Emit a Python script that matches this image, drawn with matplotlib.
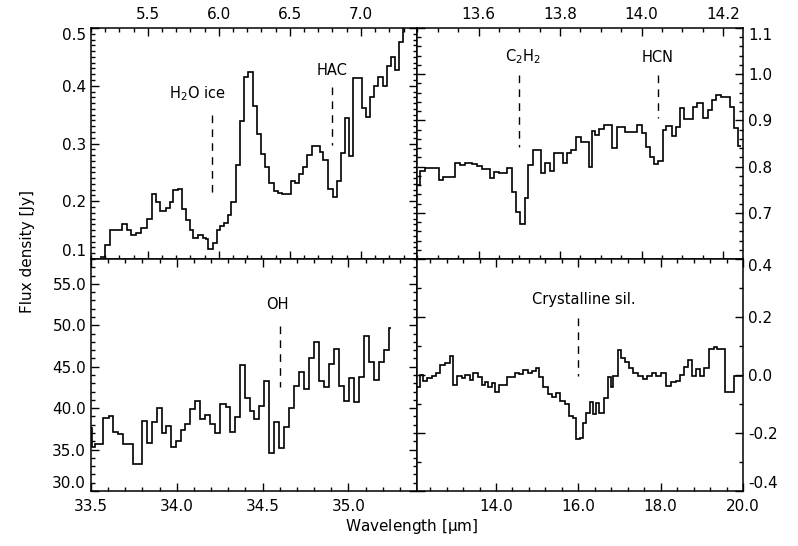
import matplotlib
matplotlib.use("Agg")
import matplotlib.pyplot as plt
from matplotlib.ticker import MultipleLocator, FormatStrFormatter

plt.rcParams['font.family'] = ['DejaVu Sans']
plt.rcParams['mathtext.default'] = 'regular'

# ---------------- 5-7 micron spectrum (top left) ----------------
sl_edges = [5.162, 5.197, 5.232, 5.315, 5.350, 5.380, 5.415, 5.455, 5.495, 5.526,
            5.556, 5.589, 5.627, 5.655, 5.678, 5.714, 5.744, 5.772, 5.796, 5.819,
            5.854, 5.885, 5.913, 5.925, 5.960, 5.984, 6.007, 6.035, 6.066, 6.089,
            6.118, 6.148, 6.178, 6.207, 6.237, 6.270, 6.296, 6.324, 6.354, 6.387,
            6.418, 6.448, 6.477, 6.505, 6.535, 6.566, 6.594, 6.622, 6.653, 6.683,
            6.711, 6.735, 6.770, 6.801, 6.829, 6.857, 6.887, 6.918, 6.946, 6.977,
            7.005, 7.035, 7.063, 7.094, 7.122, 7.153, 7.181, 7.211, 7.239, 7.270,
            7.298, 7.310]
sl_flux = [0.104, 0.124, 0.151, 0.160, 0.150, 0.141, 0.145, 0.153, 0.170, 0.212,
           0.199, 0.183, 0.189, 0.199, 0.220, 0.221, 0.186, 0.167, 0.150, 0.137,
           0.141, 0.137, 0.134, 0.118, 0.127, 0.151, 0.157, 0.162, 0.176, 0.199,
           0.263, 0.339, 0.415, 0.423, 0.365, 0.316, 0.282, 0.259, 0.231, 0.218,
           0.215, 0.213, 0.213, 0.235, 0.231, 0.248, 0.260, 0.280, 0.296, 0.296,
           0.286, 0.271, 0.222, 0.208, 0.235, 0.283, 0.345, 0.278, 0.413, 0.414,
           0.361, 0.346, 0.380, 0.400, 0.415, 0.400, 0.434, 0.449, 0.428, 0.476,
           0.520]

# ---------------- 13.5-14.2 micron spectrum (top right) ----------------
sh_edges = [13.449, 13.457, 13.469, 13.502, 13.514, 13.543, 13.555, 13.567, 13.584, 13.596,
            13.608, 13.629, 13.637, 13.649, 13.670, 13.682, 13.692, 13.702, 13.713, 13.722,
            13.733, 13.754, 13.763, 13.776, 13.786, 13.807, 13.817, 13.827, 13.839, 13.852,
            13.872, 13.878, 13.886, 13.896, 13.909, 13.927, 13.939, 13.959, 13.988, 14.000,
            14.012, 14.021, 14.031, 14.041, 14.053, 14.061, 14.074, 14.084, 14.094, 14.105,
            14.127, 14.137, 14.150, 14.162, 14.172, 14.182, 14.194, 14.204, 14.216, 14.227,
            14.237, 14.245]
sh_flux = [0.760, 0.791, 0.796, 0.771, 0.778, 0.807, 0.803, 0.808, 0.806, 0.802,
           0.794, 0.775, 0.789, 0.787, 0.796, 0.744, 0.702, 0.675, 0.731, 0.803,
           0.837, 0.787, 0.808, 0.790, 0.829, 0.808, 0.829, 0.837, 0.865, 0.854,
           0.800, 0.876, 0.868, 0.881, 0.890, 0.841, 0.886, 0.874, 0.889, 0.872,
           0.843, 0.821, 0.805, 0.812, 0.879, 0.888, 0.866, 0.885, 0.926, 0.903,
           0.930, 0.937, 0.905, 0.923, 0.944, 0.955, 0.950, 0.950, 0.930, 0.883,
           0.845]

# ---------------- 33.5-35.4 micron spectrum (bottom left) ----------------
lh_edges = [33.500, 33.504, 33.523, 33.572, 33.607, 33.630, 33.659, 33.688, 33.743, 33.795,
            33.828, 33.854, 33.883, 33.912, 33.937, 33.966, 33.995, 34.023, 34.048, 34.077,
            34.106, 34.135, 34.164, 34.193, 34.223, 34.252, 34.285, 34.310, 34.339, 34.368,
            34.397, 34.427, 34.452, 34.481, 34.510, 34.539, 34.568, 34.597, 34.626, 34.654,
            34.685, 34.714, 34.743, 34.772, 34.801, 34.830, 34.860, 34.889, 34.918, 34.947,
            34.976, 35.005, 35.034, 35.064, 35.093, 35.122, 35.151, 35.180, 35.209, 35.238,
            35.247]
lh_flux = [37.58, 35.36, 35.65, 38.78, 39.10, 37.17, 36.89, 35.65, 33.27, 38.50,
           35.77, 38.37, 39.99, 36.97, 37.89, 35.36, 36.05, 37.37, 38.06, 39.91,
           40.91, 38.66, 39.18, 38.10, 37.05, 40.51, 40.18, 37.17, 38.98, 45.21,
           41.27, 39.70, 38.66, 40.27, 43.32, 34.63, 38.37, 35.16, 37.77, 39.99,
           42.68, 44.41, 42.28, 46.09, 48.02, 43.28, 42.60, 45.30, 47.11, 42.68,
           40.91, 43.61, 40.71, 43.73, 48.71, 45.54, 43.40, 45.61, 47.02, 49.64]

# ---------------- 12-20 micron residual (bottom right) ----------------
res_edges = [12.084, 12.148, 12.229, 12.325, 12.446, 12.551, 12.647, 12.768, 12.873, 12.953,
             13.050, 13.171, 13.251, 13.372, 13.452, 13.573, 13.654, 13.734, 13.815, 13.895,
             13.976, 14.080, 14.161, 14.258, 14.338, 14.459, 14.564, 14.660, 14.781, 14.862,
             14.966, 15.047, 15.143, 15.264, 15.369, 15.465, 15.562, 15.667, 15.771, 15.868,
             15.949, 16.045, 16.110, 16.190, 16.271, 16.351, 16.432, 16.512, 16.617, 16.713,
             16.794, 16.850, 16.955, 17.035, 17.140, 17.237, 17.333, 17.438, 17.559, 17.663,
             17.784, 17.881, 18.002, 18.122, 18.243, 18.364, 18.460, 18.565, 18.670, 18.767,
             18.847, 18.944, 19.048, 19.169, 19.290, 19.370, 19.572, 19.773, 19.990]
res_flux = [-0.040, 0.000, -0.021, -0.009, -0.003, 0.006, 0.034, 0.040, 0.066, -0.034,
            -0.003, -0.009, 0.000, -0.017, 0.006, -0.006, -0.034, -0.023, -0.040, -0.029,
            -0.057, -0.034, -0.034, -0.006, -0.006, 0.006, 0.002, 0.017, 0.006, 0.015,
            0.023, -0.006, -0.040, -0.066, -0.075, -0.061, -0.089, -0.100, -0.140, -0.149,
            -0.222, -0.218, -0.167, -0.132, -0.092, -0.134, -0.095, -0.132, -0.080, -0.006,
            -0.040, -0.003, 0.086, 0.057, 0.046, 0.025, 0.008, -0.003, -0.014, -0.002,
            0.006, -0.003, 0.006, -0.038, -0.025, -0.020, 0.000, 0.026, 0.052, -0.003,
            0.020, -0.003, 0.023, 0.090, 0.095, 0.089, -0.057, -0.003]

# Axis ranges and labelled ticks
sl_xlim, sl_ylim = (5.10, 7.395), (0.1, 0.5)
sh_xlim, sh_ylim = (13.449, 14.249), (0.6, 1.1)
lh_xlim, lh_ylim = (33.5, 35.40), (30.0, 58.0)
res_xlim, res_ylim = (12.08, 20.0), (-0.4, 0.4)

sl_xticks, sl_yticks = [5.5, 6.0, 6.5, 7.0], [0.1, 0.2, 0.3, 0.4, 0.5]
sh_xticks, sh_yticks = [13.6, 13.8, 14.0, 14.2], [0.7, 0.8, 0.9, 1.0, 1.1]
lh_xticks, lh_yticks = [33.5, 34.0, 34.5, 35.0], [30.0, 35.0, 40.0, 45.0, 50.0, 55.0]
res_xticks, res_yticks = [14.0, 16.0, 18.0, 20.0], [-0.4, -0.2, 0.0, 0.2, 0.4]

# Feature markers: (label, wavelength, text level, dash top, dash bottom, text x)
sl_features = [("H$_2$O ice", 5.95, 0.386, 0.349, 0.214, 5.845),
               ("HAC", 6.80, 0.427, 0.398, 0.297, 6.80)]
sh_features = [("C$_2$H$_2$", 13.70, 1.037, 0.998, 0.843, 13.708),
               ("HCN", 14.041, 1.037, 0.998, 0.905, 14.039)]
lh_features = [("OH", 34.60, 52.45, 49.9, 42.6, 34.586)]
res_features = [("Crystalline sil.", 16.0, 0.259, 0.195, -0.003, 16.126)]

fig = plt.figure(figsize=(7.98, 5.46), dpi=100)
L, R, M = 91 / 798, 743 / 798, 417 / 798
T, MY, B = 1 - 28 / 546, 1 - 259 / 546, 1 - 491 / 546

ax_sl = fig.add_axes([L, MY, M - L, T - MY])
ax_sh = fig.add_axes([M, MY, R - M, T - MY])
ax_lh = fig.add_axes([L, B, M - L, MY - B])
ax_res = fig.add_axes([M, B, R - M, MY - B])

FS = 11


def style(ax, xlim, ylim, xticks, yticks, xminor, yminor, xfmt, yfmt, xside, yside):
    ax.set_xlim(*xlim)
    ax.set_ylim(*ylim)
    ax.set_xticks(xticks)
    ax.set_yticks(yticks)
    ax.xaxis.set_minor_locator(MultipleLocator(xminor))
    ax.yaxis.set_minor_locator(MultipleLocator(yminor))
    ax.xaxis.set_major_formatter(FormatStrFormatter(xfmt))
    ax.yaxis.set_major_formatter(FormatStrFormatter(yfmt))
    ax.tick_params(which='both', direction='in', top=True, bottom=True,
                   left=True, right=True, width=1.0, color='k',
                   labeltop=(xside == 'top'), labelbottom=(xside == 'bottom'),
                   labelleft=(yside == 'left'), labelright=(yside == 'right'),
                   labelsize=FS)
    ax.tick_params(which='major', length=6.0)
    ax.tick_params(which='minor', length=3.2)
    ax.tick_params(axis='x', which='major', pad=6 if xside == 'bottom' else 4.5)
    ax.tick_params(axis='y', which='major', pad=3.5)
    for sp in ax.spines.values():
        sp.set_linewidth(1.1)
    # keep the extreme y labels inside the frame
    ticks = ax.yaxis.get_major_ticks()
    for tk, val in zip(ticks, yticks):
        lab = tk.label1 if yside == 'left' else tk.label2
        if abs(val - ylim[1]) < 1e-9:
            lab.set_va('top')
        elif abs(val - ylim[0]) < 1e-9:
            lab.set_va('bottom')


def features(ax, feats, fs=10.5):
    for label, wl, ytxt, ytop, ybot, xtxt in feats:
        ax.text(xtxt, ytxt, label, ha='center', va='center', fontsize=fs)
        ax.plot([wl, wl], [ytop, ybot], color='k', lw=1.0, ls=(0, (5.5, 4.5)))


for ax, flux, edges in [(ax_sl, sl_flux, sl_edges), (ax_sh, sh_flux, sh_edges),
                        (ax_lh, lh_flux, lh_edges), (ax_res, res_flux, res_edges)]:
    ax.stairs(flux, edges, baseline=None, color='k', lw=1.2)

style(ax_sl, sl_xlim, sl_ylim, sl_xticks, sl_yticks, 0.1, 0.01, '%.1f', '%.1f', 'top', 'left')
style(ax_sh, sh_xlim, sh_ylim, sh_xticks, sh_yticks, 0.05, 0.02, '%.1f', '%.1f', 'top', 'right')
style(ax_lh, lh_xlim, lh_ylim, lh_xticks, lh_yticks, 0.1, 1.0, '%.1f', '%.1f', 'bottom', 'left')
style(ax_res, res_xlim, res_ylim, res_xticks, res_yticks, 0.4, 0.1, '%.1f', '%.1f', 'bottom', 'right')

features(ax_sl, sl_features)
features(ax_sh, sh_features)
features(ax_lh, lh_features)
features(ax_res, res_features)

fig.text(0.034, 0.54, "Flux density [Jy]", rotation=90, ha='center', va='center', fontsize=FS)
fig.text(0.516, 0.036, "Wavelength [$\\mu$m]", ha='center', va='center', fontsize=FS)

fig.savefig("out.png", dpi=100)
